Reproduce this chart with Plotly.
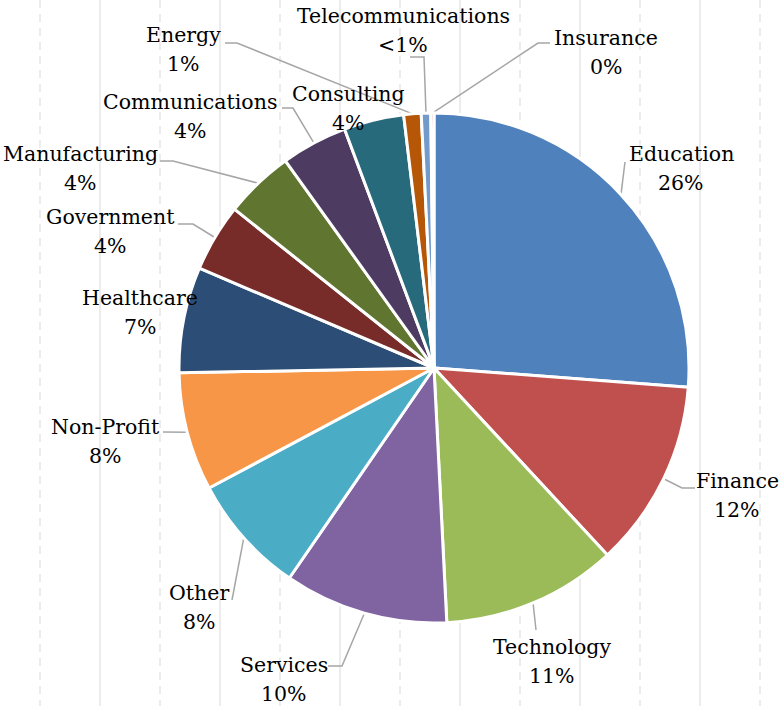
import math
import plotly.graph_objects as go

# ---------------- data ----------------
categories = ["Education", "Finance", "Technology", "Services", "Other", "Non-Profit",
              "Healthcare", "Government", "Manufacturing", "Communications", "Consulting",
              "Energy", "Telecommunications", "Insurance"]
values = [26.2, 11.9, 11.1, 10.4, 7.6, 7.5, 6.7, 4.3, 4.4, 4.2, 3.8, 1.1, 0.6, 0.2]
pct_labels = ["26%", "12%", "11%", "10%", "8%", "8%", "7%", "4%", "4%", "4%", "4%",
              "1%", "<1%", "0%"]

# ---------------- style ----------------
colors = ["#4F81BD", "#C0504D", "#9BBB59", "#8064A2", "#4BACC6", "#F79646",
          "#2C4D75", "#772C2A", "#5F7530", "#4D3B62", "#276A7C", "#B65708",
          "#729ACA", "#D46A68"]

W, H = 780, 706
CX, CY, R = 434, 368, 255   # pie centre / radius in pixels
LINE_GAP = 14.5             # half distance between name and percent lines
FONT = dict(family="DejaVu Serif", size=20.5, color="#000000")

# label block centres (px) and leader-line bend points (px)
label_layout = {
    "Education": ((681, 168), [(625, 162)]),
    "Finance": ((737, 495), [(682, 488), (695, 488)]),
    "Technology": ((552, 661), [(536, 630)]),
    "Services": ((284, 679), [(342, 666), (328, 666)]),
    "Other": ((199, 607), [(232, 600)]),
    "Non-Profit": ((105, 441), [(163, 432)]),
    "Healthcare": ((140, 312), []),
    "Government": ((110, 231), [(193, 224), (178, 224)]),
    "Manufacturing": ((80, 168), [(173, 161), (160, 161)]),
    "Communications": ((190, 116), [(293, 108), (282, 108)]),
    "Consulting": ((348, 108), []),
    "Energy": ((183, 49), [(237, 43), (225, 43)]),
    "Telecommunications": ((403, 30), [(424, 57), (410, 57)]),
    "Insurance": ((606, 52), [(538, 43), (550, 43)]),
}

fig = go.Figure()

# background vertical grid lines
for k in range(13):
    x = 40 + 60 * k
    fig.add_shape(type="line", x0=x, x1=x, y0=0, y1=H, xref="x", yref="y",
                  line=dict(color="#E6E6E6", width=1.5,
                            dash="solid" if k % 2 == 1 else "8px,6px"),
                  layer="below")

# leader lines, anchored on each slice's mid-angle at the rim
total = sum(values)
cum = 0.0
for cat, v in zip(categories, values):
    mid = (cum + v / 2) / total * 2 * math.pi
    cum += v
    ax = CX + R * math.sin(mid)
    ay = CY - R * math.cos(mid)
    bends = label_layout[cat][1]
    if bends:
        xs = [ax] + [p[0] for p in bends]
        ys = [ay] + [p[1] for p in bends]
        fig.add_trace(go.Scatter(x=xs, y=ys, mode="lines", hoverinfo="skip",
                                 line=dict(color="#A6A6A6", width=1.5),
                                 showlegend=False))

fig.add_trace(go.Pie(
    labels=categories, values=values, sort=False, direction="clockwise",
    rotation=0, textinfo="none", hoverinfo="label+percent",
    marker=dict(colors=colors, line=dict(color="white", width=3)),
    domain=dict(x=[(CX - R) / W, (CX + R) / W],
                y=[(H - CY - R) / H, (H - CY + R) / H]),
    showlegend=False,
))

for cat, pct in zip(categories, pct_labels):
    (lx, ly), _ = label_layout[cat]
    fig.add_annotation(x=lx, y=ly - LINE_GAP, xref="x", yref="y", text=cat,
                       showarrow=False, xanchor="center", yanchor="middle",
                       font=FONT)
    fig.add_annotation(x=lx, y=ly + LINE_GAP, xref="x", yref="y", text=pct,
                       showarrow=False, xanchor="center", yanchor="middle",
                       font=FONT)

fig.update_layout(
    width=W, height=H, margin=dict(l=0, r=0, t=0, b=0),
    paper_bgcolor="white", plot_bgcolor="rgba(0,0,0,0)",
    xaxis=dict(range=[0, W], visible=False, fixedrange=True),
    yaxis=dict(range=[H, 0], visible=False, fixedrange=True),
    showlegend=False,
)

fig.write_html("out.html",
               config={"displayModeBar": False},
               post_script="document.body.style.margin='0';"
                           "document.body.style.overflow='hidden';")
